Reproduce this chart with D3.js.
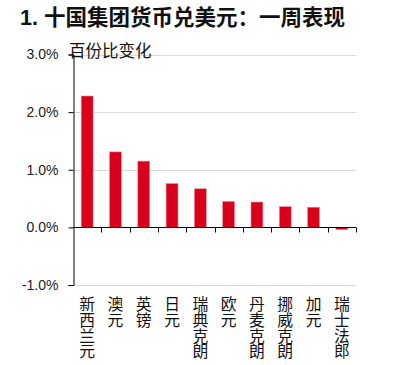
<!DOCTYPE html>
<html>
<head>
<meta charset="utf-8">
<script src="https://cdn.jsdelivr.net/npm/d3@7"></script>
<style>
  body { margin: 0; background: #fff; }
  svg { font-family: "Liberation Sans", Arial, "Noto Sans CJK SC", sans-serif; }
</style>
</head>
<body>
<script>
// chart data
var currencies = ["新西兰元", "澳元", "英镑", "日元", "瑞典克朗", "欧元", "丹麦克朗", "挪威克朗", "加元", "瑞士法郎"];
var weeklyChange = [2.28, 1.31, 1.15, 0.76, 0.67, 0.45, 0.44, 0.36, 0.35, -0.04];
var yTicks = [-1, 0, 1, 2, 3];

var titleText = "1. 十国集团货币兑美元：一周表现";
var unitText = "百份比变化";

var W = 401, H = 365;
var margin = {top: 54.5, right: 45, bottom: 80, left: 73};

var svg = d3.select("body").append("svg")
    .attr("width", W)
    .attr("height", H);

svg.append("text")
    .attr("x", 20)
    .attr("y", 24.5)
    .style("font-size", "21.5px")
    .style("font-weight", "bold")
    .style("fill", "#111")
    .text(titleText);

var x = d3.scaleBand()
    .domain(currencies)
    .range([margin.left, W - margin.right])
    .paddingInner(0.58)
    .paddingOuter(0.29);

var y = d3.scaleLinear()
    .domain([-1, 3])
    .range([H - margin.bottom, margin.top]);

// gridlines
svg.append("g")
    .selectAll("line")
    .data(yTicks.filter(function(d) { return d != 0; }))
    .enter().append("line")
      .attr("x1", margin.left)
      .attr("x2", W - margin.right)
      .attr("y1", function(d) { return Math.round(y(d)) + 0.5; })
      .attr("y2", function(d) { return Math.round(y(d)) + 0.5; })
      .style("stroke", "#d9d9d9")
      .style("stroke-width", 1);

// bars
svg.selectAll(".bar")
    .data(weeklyChange)
  .enter().append("rect")
    .attr("class", "bar")
    .attr("x", function(d, i) { return x(currencies[i]); })
    .attr("width", x.bandwidth())
    .attr("y", function(d) { return y(Math.max(0, d)); })
    .attr("height", function(d) { return Math.abs(y(d) - y(0)); })
    .style("fill", "#d9001b")
    .style("stroke", "#f08a96")
    .style("stroke-width", 0.6);

// y axis
var yAxis = d3.axisLeft(y)
    .tickValues(yTicks)
    .tickSize(5)
    .tickPadding(10)
    .tickFormat(function(d) { return d.toFixed(1) + "%"; });

var gy = svg.append("g")
    .attr("transform", "translate(" + (margin.left + 0.5) + ",0)")
    .call(yAxis);
gy.select(".domain").style("stroke", "#000");
gy.selectAll(".tick line").style("stroke", "#000");
gy.selectAll(".tick text")
    .style("font-size", "14px")
    .style("fill", "#222")
    .style("font-family", "Liberation Sans, Arial, sans-serif");

// zero line with ticks at category boundaries
var zeroY = Math.round(y(0)) + 0.5;
var step = x.step();
var boundaries = d3.range(1, currencies.length + 1).map(function(i) {
  return x(currencies[0]) - x.step() * x.paddingOuter() + i * step;
});
var gx = svg.append("g");
gx.append("line")
    .attr("x1", margin.left)
    .attr("x2", W - margin.right)
    .attr("y1", zeroY)
    .attr("y2", zeroY)
    .style("stroke", "#000");
gx.selectAll(".xtick")
    .data(boundaries)
  .enter().append("line")
    .attr("class", "xtick")
    .attr("x1", function(d) { return Math.round(d) + 0.5; })
    .attr("x2", function(d) { return Math.round(d) + 0.5; })
    .attr("y1", zeroY)
    .attr("y2", zeroY + 5)
    .style("stroke", "#000");

// vertical category labels, written top to bottom
svg.selectAll(".xlabel")
    .data(currencies)
  .enter().append("text")
    .attr("class", "xlabel")
    .attr("x", function(d) { return x(d) + x.bandwidth() / 2; })
    .attr("y", 296)
    .style("writing-mode", "vertical-rl")
    .style("text-orientation", "upright")
    .style("font-size", "15.8px")
    .style("font-family", "Noto Sans CJK SC, sans-serif")
    .style("fill", "#111")
    .text(function(d) { return d; });

// unit label
svg.append("text")
    .attr("x", 69)
    .attr("y", 57)
    .style("font-size", "16.5px")
    .style("font-family", "Noto Sans CJK SC, sans-serif")
    .style("fill", "#111")
    .text(unitText);
</script>
</body>
</html>
